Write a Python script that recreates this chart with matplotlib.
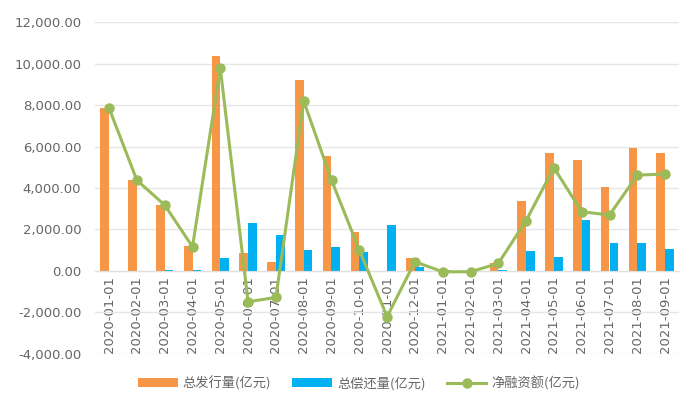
import matplotlib
matplotlib.use("Agg")
import matplotlib.pyplot as plt
import numpy as np
from matplotlib.ticker import FuncFormatter

plt.rcParams['font.family'] = ['Noto Sans CJK SC', 'DejaVu Sans']

months = ['2020-01-01', '2020-02-01', '2020-03-01', '2020-04-01', '2020-05-01',
          '2020-06-01', '2020-07-01', '2020-08-01', '2020-09-01', '2020-10-01',
          '2020-11-01', '2020-12-01', '2021-01-01', '2021-02-01', '2021-03-01',
          '2021-04-01', '2021-05-01', '2021-06-01', '2021-07-01', '2021-08-01',
          '2021-09-01']
issuance = [7850, 4380, 3175, 1190, 10390, 840, 420, 9210, 5540, 1885,
            0, 600, 0, 0, 360, 3380, 5700, 5350, 4030, 5940, 5700]
repayment = [0, 0, 30, 30, 600, 2320, 1725, 1000, 1130, 920,
             2210, 160, 40, 0, 30, 950, 680, 2450, 1320, 1320, 1035]
net_financing = [7850, 4370, 3170, 1160, 9780, -1500, -1290, 8200, 4380, 1000,
                 -2220, 435, -50, -50, 350, 2420, 4980, 2850, 2690, 4620, 4670]

orange = '#F79646'
blue = '#00B0F0'
green = '#9BBB59'
gray_txt = '#666666'

fig = plt.figure(figsize=(7, 3.99), dpi=100)
ax = fig.add_axes([0.136, 0.114, 0.834, 0.83])

x = np.arange(len(months))
w = 0.31
b1 = ax.bar(x - w / 2, issuance, w, color=orange, label='总发行量(亿元)', zorder=2)
b2 = ax.bar(x + w / 2, repayment, w, color=blue, label='总偿还量(亿元)', zorder=2)
l1, = ax.plot(x, net_financing, color=green, lw=2.2, marker='o', ms=6.5,
              label='净融资额(亿元)', zorder=3)

ax.set_xlim(-0.5, len(months) - 0.5)
ax.set_ylim(-4000, 12000)
ax.set_yticks(np.arange(-4000, 12001, 2000))
ax.yaxis.set_major_formatter(FuncFormatter(lambda v, p: f'{v:,.2f}'))
ax.grid(axis='y', color='#E6E6E6', lw=1, zorder=0)
ax.set_axisbelow(True)

for s in ['top', 'right', 'left']:
    ax.spines[s].set_visible(False)
ax.spines['bottom'].set_position(('data', 0))
ax.spines['bottom'].set_color('#E0E0E0')

ax.set_xticks(x)
ax.set_xticklabels(months, rotation=90, fontsize=9.5, color=gray_txt,
                   family='DejaVu Sans')
ax.tick_params(axis='x', length=0, pad=4)
ax.tick_params(axis='y', length=0, labelsize=9.5, labelcolor=gray_txt, pad=10)
for t in ax.get_yticklabels():
    t.set_family('DejaVu Sans')

fig.legend(handles=[b1, b2, l1], loc='center', bbox_to_anchor=(0.513, 0.04),
           ncol=3, frameon=False, fontsize=9.5, labelcolor=gray_txt,
           handlelength=3, handleheight=0.6, columnspacing=1.6,
           handletextpad=0.4)

fig.savefig('out.png', dpi=100)
